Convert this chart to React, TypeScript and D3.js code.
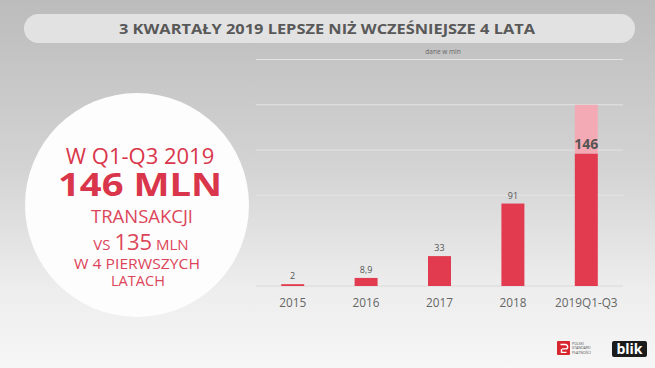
import * as d3 from "d3";

const W = 655;
const H = 368;

const categories = ["2015", "2016", "2017", "2018", "2019Q1-Q3"];
const values = [2, 8.9, 33, 91, 146];
const valueLabels = ["2", "8,9", "33", "91", "146"];
// light pink extension on top of the last bar (full-year estimate)
const extraValues = [0, 0, 0, 0, 54];
const gridTicks = [0, 50, 100, 150, 200, 250];

const RED = "#e23a4f";
const PINK = "#f4aab4";

export default function App() {
  const x = d3.scaleBand<string>().domain(categories).range([256, 623]).paddingInner(0.687).paddingOuter(0.3435);
  const y = d3.scaleLinear().domain([0, 250]).range([286, 59.5]);
  const bw = x.bandwidth();
  const font = "'Open Sans', sans-serif";
  const txtRed = "#d9364b";
  const txtPink = "#dc4559";

  return (
    <svg width={W} height={H} style={{ position: "absolute", left: 0, top: 0 }} fontFamily={font}>
      <defs>
        <linearGradient id="bg" x1="0" y1="0" x2="0" y2="1">
          <stop offset="0" stopColor="#bcbcbc" />
          <stop offset="0.45" stopColor="#d3d3d3" />
          <stop offset="0.78" stopColor="#ededed" />
          <stop offset="1" stopColor="#f6f6f6" />
        </linearGradient>
      </defs>
      <rect width={W} height={H} fill="url(#bg)" />

      {/* title banner */}
      <rect x={24} y={14} width={611} height={29} rx={14.5} fill="#e2e2e2" />
      <text x={327} y={33.5} textAnchor="middle" fontSize={15} fontWeight="bold" fill="#595959"
        textLength={416} lengthAdjust="spacingAndGlyphs">
        3 KWARTAŁY 2019 LEPSZE NIŻ WCZEŚNIEJSZE 4 LATA
      </text>
      <text x={443} y={54} textAnchor="middle" fontSize={6.5} fill="#666">dane w mln</text>

      {/* grid */}
      {gridTicks.map(t => (
        <line key={t} x1={256} x2={623} y1={y(t)} y2={y(t)} stroke={t === 0 ? "#d9d9d9" : "#e4e4e4"} strokeWidth={1} />
      ))}

      {/* bars */}
      {categories.map((c, i) => (
        <g key={c}>
          {extraValues[i] > 0 && (
            <rect x={x(c)} y={y(values[i] + extraValues[i])} width={bw}
              height={y(values[i]) - y(values[i] + extraValues[i])} fill={PINK} />
          )}
          <rect x={x(c)} y={y(values[i])} width={bw} height={y(0) - y(values[i])} fill={RED} />
          {i < categories.length - 1 ? (
            <text x={(x(c) as number) + bw / 2} y={y(values[i]) - 5} textAnchor="middle" fontSize={9} fill="#555">
              {valueLabels[i]}
            </text>
          ) : (
            <text x={(x(c) as number) + bw / 2} y={y(values[i]) - 5} textAnchor="middle" fontSize={14} fontWeight="bold" fill="#555">
              {valueLabels[i]}
            </text>
          )}
          <text x={(x(c) as number) + bw / 2} y={306.5} textAnchor="middle" fontSize={11.8} fill="#666">{c}</text>
        </g>
      ))}

      {/* circle with headline */}
      <circle cx={137} cy={205} r={112} fill="#fdfdfd" />
      <text x={140} y={164} textAnchor="middle" fontSize={22} fill={txtRed}>
        W Q1-Q3 2019
      </text>
      <text x={140} y={196} textAnchor="middle" fontSize={33} fontWeight="bold" fill={txtRed} textLength={164} lengthAdjust="spacingAndGlyphs">
        146 MLN
      </text>
      <text x={142} y={223} textAnchor="middle" fontSize={18} fill={txtPink} textLength={102} lengthAdjust="spacingAndGlyphs">
        TRANSAKCJI
      </text>
      <text x={141} y={250} textAnchor="middle" fill={txtPink}>
        <tspan fontSize={15}>VS </tspan>
        <tspan fontSize={22}>135</tspan>
        <tspan fontSize={15}> MLN</tspan>
      </text>
      <text x={137} y={268.5} textAnchor="middle" fontSize={14} fill={txtPink} textLength={126} lengthAdjust="spacingAndGlyphs">
        W 4 PIERWSZYCH
      </text>
      <text x={138} y={285.5} textAnchor="middle" fontSize={14} fill={txtPink} textLength={54} lengthAdjust="spacingAndGlyphs">LATACH</text>

      {/* logos */}
      <rect x={557} y={341} width={13} height={14} rx={1} fill="#d8262f" />
      <path d="M560.5,344.5 h5 a2.2,2.2 0 0 1 0,4.4 h-3.5 M561.5,348.9 v3.5 h5" fill="none" stroke="#fff" strokeWidth={1.4} />
      <text x={572} y={345} fontSize={3.6} fill="#555">POLSKI</text>
      <text x={572} y={349.3} fontSize={3.6} fill="#555">STANDARD</text>
      <text x={572} y={353.6} fontSize={3.6} fill="#555">PŁATNOŚCI</text>
      <rect x={612} y={341} width={35} height={16} rx={2} fill="#1b1b1b" />
      <text x={629.5} y={354} textAnchor="middle" fontSize={14} fontWeight="bold" fill="#fff">blik</text>
    </svg>
  );
}
